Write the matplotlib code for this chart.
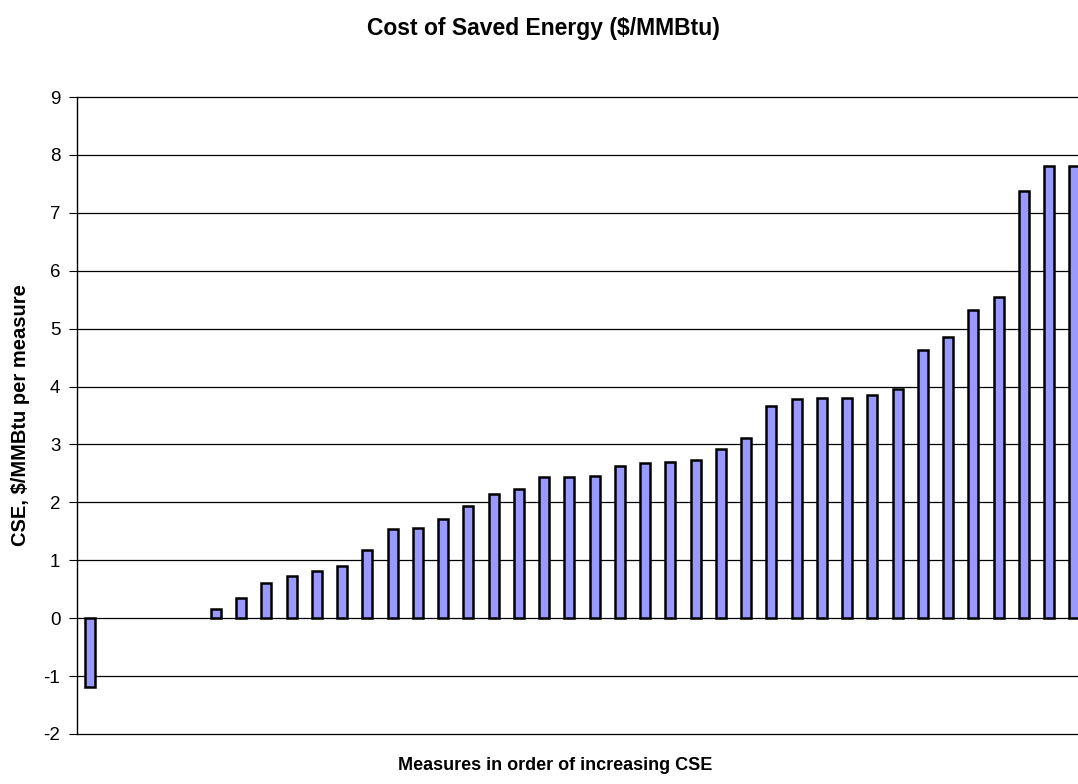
import numpy as np
import matplotlib
matplotlib.use("Agg")
import matplotlib.pyplot as plt

plt.rcParams['font.family'] = ['Liberation Sans', 'DejaVu Sans']
plt.rcParams['axes.unicode_minus'] = False

# cost of saved energy per measure, sorted; positions 1-4 have no value
cse_values = [-1.19, np.nan, np.nan, np.nan, np.nan,
              0.15, 0.35, 0.60, 0.72, 0.81, 0.90, 1.18, 1.54, 1.55, 1.71,
              1.93, 2.15, 2.23, 2.43, 2.43, 2.46, 2.63, 2.68, 2.70, 2.74,
              2.93, 3.12, 3.66, 3.78, 3.81, 3.81, 3.85, 3.95, 4.63, 4.85,
              5.33, 5.54, 7.37, 7.80, 7.81]
y_ticks = list(range(-2, 10))

title = "Cost of Saved Energy ($/MMBtu)"
x_label = "Measures in order of increasing CSE"
y_label = "CSE, $/MMBtu per measure"

W, H = 1078, 784
fig = plt.figure(figsize=(W / 100, H / 100), dpi=100)
# plot area runs a little past the right edge of the figure
ax = fig.add_axes([77 / W, 50 / H, 1010 / W, 637 / H])

x = np.arange(len(cse_values))
vals = np.array(cse_values, dtype=float)
mask = ~np.isnan(vals)
ax.bar(x[mask], vals[mask], width=0.40, color='#9999FF',
       edgecolor='black', linewidth=1.8, zorder=3)

ax.set_xlim(-0.5, len(cse_values) - 0.5)
ax.set_ylim(-2, 9)
ax.set_yticks(y_ticks)
ax.set_yticklabels([str(t) for t in y_ticks], fontsize=13.5)
ax.set_xticks([])
ax.tick_params(axis='y', direction='out', length=6, width=0.8, pad=6)
# horizontal grid, including the bottom line at -2
for t in y_ticks:
    ax.axhline(t, color='black', linewidth=0.9, zorder=1, clip_on=False)
for side in ['top', 'right', 'bottom']:
    ax.spines[side].set_visible(False)
ax.spines['left'].set_linewidth(1.0)

ax.set_ylabel(y_label, fontsize=14.5, fontweight='bold', labelpad=10)
fig.text(543 / W, 1 - 28 / H, title, fontsize=16.5, fontweight='bold',
         ha='center', va='center')
fig.text(555 / W, 1 - 765 / H, x_label, fontsize=13, fontweight='bold',
         ha='center', va='center')

fig.savefig("out.png", dpi=100, facecolor='white')
